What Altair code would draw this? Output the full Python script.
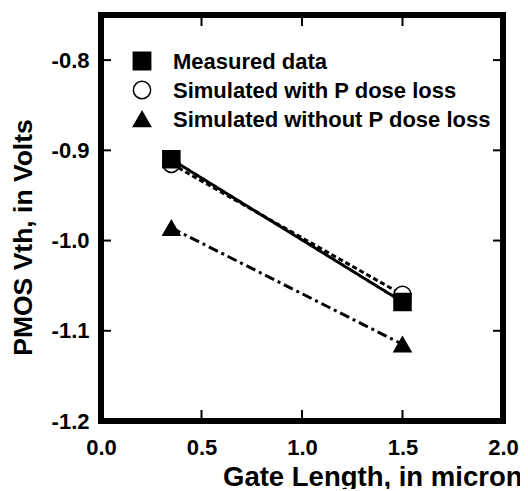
import altair as alt
import pandas as pd

# ---- data ----
series_names = ["Measured data", "Simulated with P dose loss", "Simulated without P dose loss"]
series_shapes = ["square", "circle", "triangle-up"]
series_fills = ["black", "white", "black"]
gate_length = [0.35, 1.5]
measured_vth = [-0.91, -1.068]
sim_with_loss_vth = [-0.915, -1.06]
sim_without_loss_vth = [-0.986, -1.115]

x_ticks = [0.0, 0.5, 1.0, 1.5, 2.0]
y_ticks = [-1.2, -1.1, -1.0, -0.9, -0.8]
x_inner_ticks = [0.5, 1.0, 1.5]
y_inner_ticks = [-1.1, -1.0, -0.9, -0.8]
x_domain = [0.0, 2.0]
y_domain = [-1.2, -0.75]

rows = []
# circles first so squares are drawn on top of them
for xv, yv in zip(gate_length, sim_with_loss_vth):
    rows.append({"series": series_names[1], "x": xv, "y": yv})
for xv, yv in zip(gate_length, measured_vth):
    rows.append({"series": series_names[0], "x": xv, "y": yv})
for xv, yv in zip(gate_length, sim_without_loss_vth):
    rows.append({"series": series_names[2], "x": xv, "y": yv})
df = pd.DataFrame(rows)
legend_df = pd.DataFrame({"series": series_names})

FONT = "Liberation Sans"
W, H = 402, 406

xscale = alt.Scale(domain=x_domain, nice=False, zero=False)
yscale = alt.Scale(domain=y_domain, nice=False, zero=False)
shape_scale = alt.Scale(domain=series_names, range=series_shapes)
fill_scale = alt.Scale(domain=series_names, range=series_fills)
label_expr = "replace(format(datum.value, '.1f'), '\u2212', '-')"

x_axis = alt.Axis(
    values=x_ticks, labelExpr=label_expr,
    title="Gate Length, in micron", domain=False, ticks=False, grid=False,
    labelFont=FONT, labelFontSize=22, labelFontWeight="bold", labelColor="black",
    labelPadding=16, labelFlush=False, labelOverlap=False,
    titleFont=FONT, titleFontSize=27.5, titleFontWeight="bold", titleColor="black",
    titleAnchor="end", titleAlign="right", titleX=421, titleY=64, titleBaseline="alphabetic")
y_axis = alt.Axis(
    values=y_ticks, labelExpr=label_expr,
    title="PMOS Vth, in Volts", domain=False, ticks=False, grid=False,
    labelFont=FONT, labelFontSize=22, labelFontWeight="bold", labelColor="black",
    labelPadding=12, labelFlush=False, labelOverlap=False,
    titleFont=FONT, titleFontSize=26.5, titleFontWeight="bold", titleColor="black",
    titleY=222, titlePadding=14)

# plot frame drawn as a rectangle spanning the full axis domains
frame_df = pd.DataFrame({"x0": [x_domain[0]], "x1": [x_domain[1]],
                         "y0": [y_domain[0]], "y1": [y_domain[1]]})
frame = alt.Chart(frame_df).mark_rect(
    filled=False, stroke="black", strokeWidth=6, fillOpacity=0).encode(
    x=alt.X("x0:Q", scale=xscale, axis=x_axis), x2="x1:Q",
    y=alt.Y("y0:Q", scale=yscale, axis=y_axis), y2="y1:Q")

base = alt.Chart(df)
x_enc = alt.X("x:Q", scale=xscale, axis=x_axis)
y_enc = alt.Y("y:Q", scale=yscale, axis=y_axis)

lines = base.mark_line(color="black", strokeWidth=3).encode(
    x=x_enc, y=y_enc,
    detail="series:N",
    strokeDash=alt.StrokeDash("series:N", scale=alt.Scale(
        domain=series_names, range=[[1, 0], [5, 3], [10, 4, 3, 4]]), legend=None),
)

points = base.mark_point(filled=False, stroke="black", strokeWidth=1.5, opacity=1).encode(
    x=x_enc, y=y_enc,
    shape=alt.Shape("series:N", scale=shape_scale, legend=None),
    fill=alt.Fill("series:N", scale=fill_scale, legend=None),
    size=alt.value(290),
)

# legend drawn inside the plot (top-left): one small layer per entry
legend_layers = []
for i, name in enumerate(series_names):
    ldf = legend_df[legend_df["series"] == name]
    row_y = 46 + 29 * i
    legend_layers.append(alt.Chart(ldf).mark_point(
        filled=False, stroke="black", strokeWidth=1.5, opacity=1).encode(
        x=alt.value(41), y=alt.value(row_y),
        shape=alt.Shape("series:N", scale=shape_scale, legend=None),
        fill=alt.Fill("series:N", scale=fill_scale, legend=None),
        size=alt.value(300)))
    legend_layers.append(alt.Chart(ldf).mark_text(
        align="left", baseline="middle", font=FONT, fontSize=22, fontWeight="bold",
        color="black", dy=1).encode(
        x=alt.value(72), y=alt.value(row_y), text="series:N"))

tx = pd.DataFrame({"t": x_inner_ticks})
ty = pd.DataFrame({"t": y_inner_ticks})
tick_style = dict(color="black", strokeWidth=2)
bottom_ticks = alt.Chart(tx).mark_rule(**tick_style).encode(
    x=alt.X("t:Q", scale=xscale, axis=x_axis), y=alt.value(H), y2=alt.value(H - 11))
top_ticks = alt.Chart(tx).mark_rule(**tick_style).encode(
    x=alt.X("t:Q", scale=xscale, axis=x_axis), y=alt.value(0), y2=alt.value(11))
left_ticks = alt.Chart(ty).mark_rule(**tick_style).encode(
    y=alt.Y("t:Q", scale=yscale, axis=y_axis), x=alt.value(0), x2=alt.value(10))
right_ticks = alt.Chart(ty).mark_rule(**tick_style).encode(
    y=alt.Y("t:Q", scale=yscale, axis=y_axis), x=alt.value(W), x2=alt.value(W - 10))

chart = alt.layer(
    frame, lines, bottom_ticks, top_ticks, left_ticks, right_ticks,
    points, *legend_layers
).properties(
    width=W, height=H,
    autosize=alt.AutoSizeParams(type="none"),
    padding={"left": 93, "top": 7, "right": 17, "bottom": 68},
).configure(
    background="white"
).configure_view(
    stroke="black", strokeWidth=6
)

chart.save("out.html", embed_options={"renderer": "svg", "actions": False})
